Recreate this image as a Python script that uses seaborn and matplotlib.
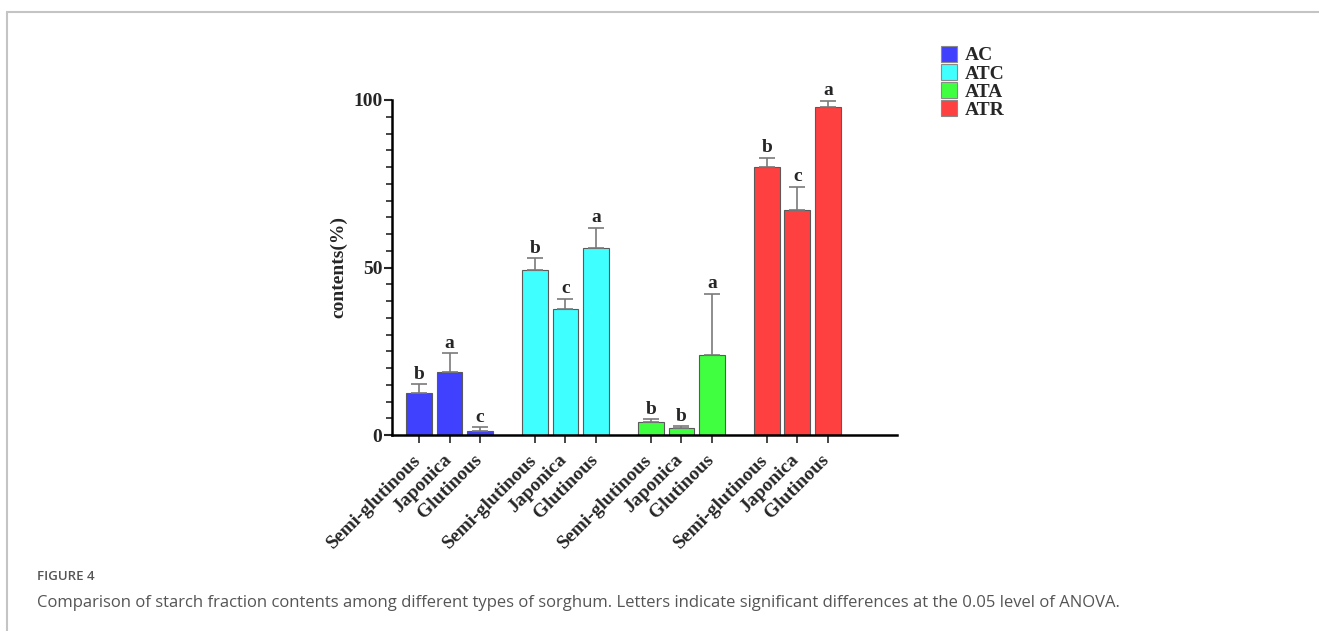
import numpy as np
import pandas as pd
import matplotlib
matplotlib.use("Agg")
import matplotlib.pyplot as plt
import matplotlib.transforms as mtransforms
from matplotlib.lines import Line2D
from matplotlib.patches import Patch
from matplotlib.ticker import MultipleLocator
import seaborn as sns

# ---- data -------------------------------------------------------------
fractions = ["AC", "ATC", "ATA", "ATR"]
varieties = ["Semi-glutinous", "Japonica", "Glutinous"]

ac_mean = [12.6, 18.9, 1.3]
ac_sd = [2.5, 5.5, 1.0]
atc_mean = [49.2, 37.7, 55.7]
atc_sd = [3.6, 3.0, 6.1]
ata_mean = [3.9, 2.1, 23.9]
ata_sd = [0.8, 0.5, 18.2]
atr_mean = [80.0, 67.1, 98.0]
atr_sd = [2.8, 7.0, 1.8]

ac_letters = ["b", "a", "c"]
atc_letters = ["b", "c", "a"]
ata_letters = ["b", "b", "a"]
atr_letters = ["b", "c", "a"]

colors = ["#4040FF", "#40FFFF", "#40FF40", "#FF4040"]

caption_title = "FIGURE 4"
caption_text = ("Comparison of starch fraction contents among different types of sorghum. "
                "Letters indicate significant differences at the 0.05 level of ANOVA.")

# ---- long-form table ----------------------------------------------------
means = [ac_mean, atc_mean, ata_mean, atr_mean]
sds = [ac_sd, atc_sd, ata_sd, atr_sd]
letters = [ac_letters, atc_letters, ata_letters, atr_letters]
group_stride = 3.8
rows = []
for g, frac in enumerate(fractions):
    for i, var in enumerate(varieties):
        rows.append({"fraction": frac, "variety": var,
                     "pos": g * group_stride + i,
                     "value": means[g][i], "sd": sds[g][i],
                     "letter": letters[g][i]})
df = pd.DataFrame(rows)

# ---- figure -------------------------------------------------------------
sns.set_style("ticks")
plt.rcParams["font.family"] = ["Liberation Serif", "DejaVu Serif"]
plt.rcParams["font.weight"] = "bold"

fig = plt.figure(figsize=(13.19, 6.31), dpi=100)
ax = fig.add_axes([392 / 1319, 196 / 631, (897 - 392) / 1319, 335 / 631])

sns.barplot(data=df, x="pos", y="value", hue="fraction", hue_order=fractions,
            palette=colors, saturation=1, native_scale=True, dodge=False,
            width=0.84, errorbar=None, edgecolor="#5a5a5a", linewidth=0.8,
            legend=False, ax=ax, zorder=2)

# upper-only error bars
ax.errorbar(df["pos"], df["value"], yerr=[np.zeros(len(df)), df["sd"]],
            fmt="none", ecolor="#7a7a7a", elinewidth=1.2, capsize=6,
            capthick=1.2, zorder=3)

# significance letters
for _, r in df.iterrows():
    ax.annotate(r["letter"], (r["pos"], r["value"] + r["sd"]),
                xytext=(0, 4), textcoords="offset points",
                ha="center", va="baseline", fontsize=14, fontweight="bold",
                annotation_clip=False)

ax.set_xlim(-0.885, 15.67)
ax.set_ylim(0, 100)
ax.set_yticks([0, 50, 100])
ax.yaxis.set_minor_locator(MultipleLocator(5))
ax.tick_params(axis="y", labelsize=14, width=1.5, length=6, pad=1)
ax.tick_params(axis="y", which="minor", width=1.2, length=4)
ax.tick_params(axis="x", width=1.2, length=6)
ax.set_xticks(df["pos"])
ax.set_xticklabels(df["variety"], rotation=45, ha="right",
                   rotation_mode="anchor", fontsize=14, fontweight="bold")
for lab in ax.get_yticklabels():
    lab.set_fontweight("bold")
ax.set_xlabel("")
ax.set_ylabel("contents(%)", fontsize=14, fontweight="bold", labelpad=4)
sns.despine(ax=ax)
for side in ["left", "bottom"]:
    ax.spines[side].set_linewidth(1.8)
    ax.spines[side].set_color("black")

# nudge rotated labels so their ends sit just left of and below each tick
shift = mtransforms.ScaledTranslation(-7 / 100, -3 / 100, fig.dpi_scale_trans)
for lab in ax.get_xticklabels():
    lab.set_transform(lab.get_transform() + shift)

# legend
handles = [Patch(facecolor=c, edgecolor="#8a8a8a", linewidth=0.8) for c in colors]
fig.legend(handles, fractions, loc="upper left",
           bbox_to_anchor=(941 / 1319, 1 - 46 / 631), frameon=False,
           prop={"family": "Liberation Serif", "weight": "bold", "size": 14},
           handlelength=0.8, handleheight=0.85, handletextpad=0.45,
           labelspacing=-0.02, borderaxespad=0, borderpad=0)

# page frame lines
fig.add_artist(Line2D([7 / 1319, 1], [1 - 12 / 631, 1 - 12 / 631],
                      color="#c4c4c4", linewidth=1.5))
fig.add_artist(Line2D([7 / 1319, 7 / 1319], [0, 1 - 12 / 631],
                      color="#c4c4c4", linewidth=1.5))

# caption
fig.text(37 / 1319, 1 - 576 / 631, caption_title, family="Open Sans",
         fontsize=9.5, fontweight="semibold", color="#555555", va="center")
fig.text(37 / 1319, 1 - 603 / 631, caption_text, family="Open Sans",
         fontsize=12, fontweight="normal", color="#555555", va="center")

fig.savefig("out.png", dpi=100)
